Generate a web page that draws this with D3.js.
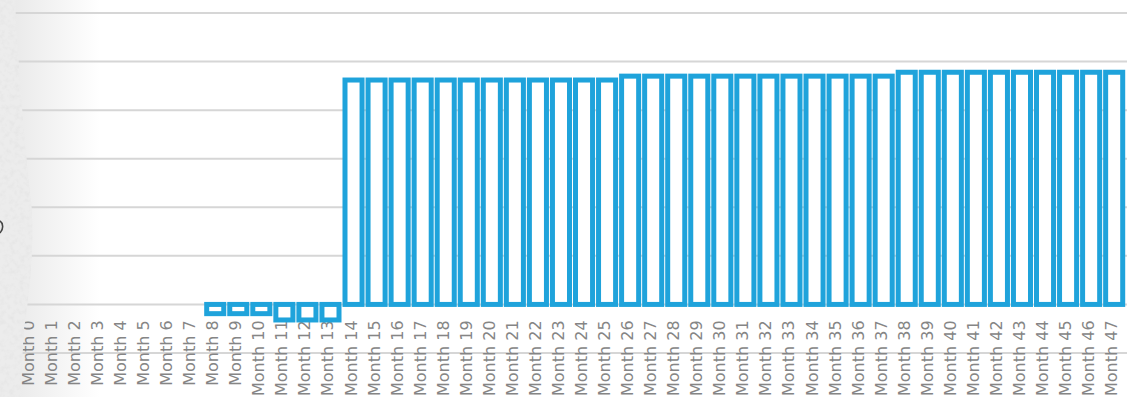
<!DOCTYPE html>
<html>
<head>
<meta charset="utf-8">
<script src="https://cdn.jsdelivr.net/npm/d3@7"></script>
<style>
  html, body { margin: 0; padding: 0; background: #fff; overflow: hidden; }
  svg { display: block; }
</style>
</head>
<body>
<svg id="chart" width="1127" height="397"></svg>
<script>
// ---- data ----
const categories = d3.range(0, 48).map(i => "Month " + i);
const values = [
  null, null, null, null, null, null, null, null,
  -1.9, -1.9, -1.9, -3.2, -3.2, -3.2,
  46.2, 46.2, 46.2, 46.2, 46.2, 46.2, 46.2, 46.2, 46.2, 46.2, 46.2, 46.2,
  47.0, 47.0, 47.0, 47.0, 47.0, 47.0, 47.0, 47.0, 47.0, 47.0, 47.0, 47.0,
  47.8, 47.8, 47.8, 47.8, 47.8, 47.8, 47.8, 47.8, 47.8, 47.8
];
const yTicks = [-10, 0, 10, 20, 30, 40, 50, 60];

// ---- layout ----
const W = 1127, H = 397;
const svg = d3.select("#chart");
const defs = svg.append("defs");

const grad = defs.append("linearGradient").attr("id", "leftfade")
  .attr("x1", "0").attr("x2", "1").attr("y1", "0").attr("y2", "0");
grad.append("stop").attr("offset", "0").attr("stop-color", "#e6e6e6");
grad.append("stop").attr("offset", "1").attr("stop-color", "#ffffff");

const f = defs.append("filter").attr("id", "tex").attr("x", 0).attr("y", 0)
  .attr("width", 1).attr("height", 1);
f.append("feTurbulence").attr("type", "fractalNoise").attr("baseFrequency", "0.2")
  .attr("numOctaves", 3).attr("seed", 7).attr("result", "noise");
f.append("feColorMatrix").attr("in", "noise").attr("type", "matrix")
  .attr("values", "0 0 0 0 0.78  0 0 0 0 0.78  0 0 0 0 0.78  2.0 0 0 0 -0.85")
  .attr("result", "specks");
f.append("feComposite").attr("in", "specks").attr("in2", "SourceGraphic")
  .attr("operator", "in").attr("result", "sp2");
f.append("feMerge").call(m => {
  m.append("feMergeNode").attr("in", "SourceGraphic");
  m.append("feMergeNode").attr("in", "sp2");
});

// background
svg.append("rect").attr("width", W).attr("height", H).attr("fill", "#fff");
svg.append("rect").attr("x", 0).attr("y", 0).attr("width", 100).attr("height", H)
  .attr("fill", "url(#leftfade)");

const x = d3.scaleBand().domain(categories).range([19.3, 1125.7])
  .paddingInner(0.26).paddingOuter(0.13);
const y = d3.scaleLinear().domain([-10, 60]).range([353, 13]);

// gridlines
svg.append("g").selectAll("line").data(yTicks).join("line")
  .attr("x1", 10).attr("x2", W)
  .attr("y1", d => y(d)).attr("y2", d => y(d))
  .attr("stroke", "#d6d6d6").attr("stroke-width", 2);

// category labels
svg.append("g").selectAll("text").data(categories).join("text")
  .attr("transform", d => `translate(${x(d) + x.bandwidth() / 2 + 3},${y(0) + 16}) rotate(-90)`)
  .attr("text-anchor", "end")
  .attr("font-family", "DejaVu Sans, sans-serif")
  .attr("font-size", 16)
  .attr("fill", "#858585")
  .text(d => d);

// bars
const barData = categories.map((c, i) => ({ c, v: values[i] })).filter(d => d.v !== null);
svg.append("g").selectAll("rect").data(barData).join("rect")
  .attr("x", d => x(d.c))
  .attr("width", x.bandwidth())
  .attr("y", d => y(Math.max(0, d.v)))
  .attr("height", d => Math.abs(y(d.v) - y(0)))
  .attr("fill", "#ffffff")
  .attr("stroke", "#1fa3db")
  .attr("stroke-width", 5);

// textured left edge
svg.append("path")
  .attr("d", "M0,0 L15,0 C18,60 24,140 31,200 C35,240 30,290 24,330 C22,360 21,385 21,397 L0,397 Z")
  .attr("fill", "#ececec")
  .attr("filter", "url(#tex)");

// small dark clipped mark at far left edge (cut-off glyph in the original)
svg.append("path")
  .attr("d", "M0,221 C3,223 4,229 0,233")
  .attr("fill", "none").attr("stroke", "#444").attr("stroke-width", 1.6);
</script>
</body>
</html>
